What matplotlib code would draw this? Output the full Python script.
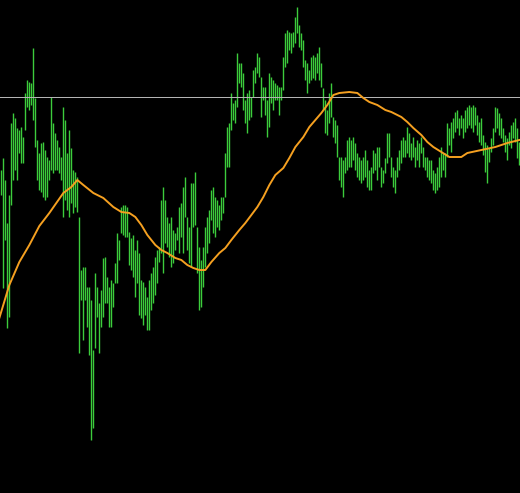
import matplotlib
matplotlib.use("Agg")
import matplotlib.pyplot as plt
import numpy as np

# bar highs / lows (price units), one bar per index
highs = [330, 342, 320, 277, 305, 377, 387, 382, 372, 370, 373, 363, 407, 420, 418, 417,
         452, 402, 360, 347, 357, 358, 350, 343, 340, 403, 377, 367, 360, 353, 343, 393,
         380, 347, 370, 352, 330, 328, 323, 283, 230, 233, 233, 213, 213, 200, 150, 227,
         213, 197, 210, 242, 243, 223, 213, 220, 217, 237, 267, 260, 293, 295, 295, 293,
         268, 262, 265, 250, 260, 247, 220, 218, 213, 203, 220, 227, 233, 243, 250, 253,
         300, 313, 300, 283, 277, 283, 270, 267, 273, 293, 297, 313, 323, 283, 273, 317,
         317, 328, 273, 253, 240, 253, 273, 283, 290, 310, 313, 303, 300, 295, 303, 303,
         347, 373, 377, 407, 397, 400, 447, 437, 437, 427, 400, 407, 410, 403, 430, 433,
         447, 443, 423, 413, 413, 400, 427, 423, 420, 417, 415, 413, 413, 443, 467, 470,
         468, 467, 468, 483, 493, 475, 467, 460, 440, 437, 430, 443, 445, 443, 447, 453,
         437, 412, 400, 390, 407, 417, 383, 380, 375, 343, 343, 340, 343, 360, 363, 360,
         363, 357, 347, 343, 340, 343, 350, 340, 330, 333, 350, 347, 353, 353, 333, 330,
         342, 367, 367, 343, 333, 330, 343, 350, 360, 363, 360, 373, 367, 357, 363, 353,
         360, 357, 363, 353, 343, 343, 340, 340, 330, 327, 333, 343, 353, 347, 347, 377,
         372, 378, 382, 388, 390, 382, 385, 382, 390, 393, 395, 393, 395, 393, 385, 378,
         382, 365, 358, 355, 352, 362, 372, 393, 392, 387, 382, 372, 365, 362, 368, 375,
         378, 382, 372, 358]
lows = [305, 212, 260, 172, 183, 295, 320, 330, 320, 347, 337, 337, 370, 393, 390, 395,
        380, 353, 320, 310, 308, 303, 300, 303, 320, 330, 327, 330, 330, 327, 320, 283,
        300, 290, 283, 297, 287, 293, 288, 147, 200, 160, 200, 173, 145, 60, 72, 152,
        183, 147, 173, 183, 197, 197, 173, 173, 193, 217, 217, 240, 267, 265, 263, 263,
        235, 230, 223, 203, 217, 185, 182, 175, 185, 170, 170, 190, 197, 205, 217, 238,
        247, 227, 257, 253, 243, 233, 237, 250, 260, 247, 263, 247, 283, 250, 237, 233,
        273, 275, 227, 190, 193, 213, 233, 247, 257, 280, 267, 263, 273, 270, 280, 287,
        303, 333, 333, 370, 380, 377, 393, 417, 413, 390, 377, 367, 380, 383, 403, 417,
        427, 423, 383, 400, 385, 363, 373, 397, 390, 400, 400, 385, 400, 410, 433, 437,
        450, 447, 453, 457, 467, 453, 450, 433, 420, 407, 417, 420, 422, 420, 427, 420,
        413, 390, 367, 365, 377, 383, 363, 357, 343, 320, 313, 303, 327, 330, 333, 333,
        340, 330, 323, 320, 317, 320, 323, 313, 310, 310, 327, 330, 320, 333, 313, 317,
        327, 337, 343, 323, 313, 307, 323, 330, 337, 343, 343, 347, 343, 340, 343, 333,
        340, 333, 347, 333, 330, 323, 320, 317, 310, 307, 310, 313, 323, 330, 323, 343,
        355, 348, 362, 368, 372, 365, 372, 362, 368, 372, 375, 372, 368, 375, 365, 358,
        355, 345, 328, 317, 338, 348, 355, 368, 372, 365, 362, 358, 348, 340, 355, 352,
        362, 358, 342, 335]

# moving average read at sample bars
ma_idx = [-1, 4, 9, 14, 19, 24, 31, 35, 38, 41, 46, 51, 56, 60, 64, 67, 70, 73, 77, 80,
          83, 87, 90, 93, 96, 99, 102, 105, 109, 112, 115, 119, 122, 125, 128, 131, 134,
          137, 141, 144, 147, 151, 154, 157, 160, 163, 166, 169, 174, 178, 181, 184, 188,
          192, 195, 200, 203, 206, 210, 213, 216, 220, 224, 230, 233, 240, 247, 253, 259]
ma_val = [182, 215, 238, 255, 274, 287, 307, 313, 320, 315, 307, 302, 293, 288, 287, 283,
          275, 265, 255, 250, 247, 242, 240, 235, 232, 230, 230, 238, 247, 252, 260, 270,
          277, 285, 293, 303, 315, 325, 332, 342, 353, 363, 373, 380, 387, 395, 405, 407,
          408, 407, 402, 398, 395, 390, 388, 383, 378, 372, 365, 358, 353, 348, 343, 343,
          347, 350, 353, 357, 360]

level = 403

fig = plt.figure(figsize=(5.2, 4.93), dpi=100, facecolor="black")
ax = fig.add_axes([0, 0, 1, 1])
ax.set_facecolor("black")

x = np.arange(len(highs))
ax.vlines(x, lows, highs, colors="#3ccc3c", linewidth=1.0, antialiased=True)
ax.axhline(level, color="#b4b4b4", linewidth=0.72, antialiased=False)
ax.plot(ma_idx, ma_val, color="#f5a020", linewidth=1.4)

ax.set_xlim(-0.67, 259.33)
ax.set_ylim(7, 500)
ax.axis("off")

fig.savefig("out.png", dpi=100, facecolor="black")
